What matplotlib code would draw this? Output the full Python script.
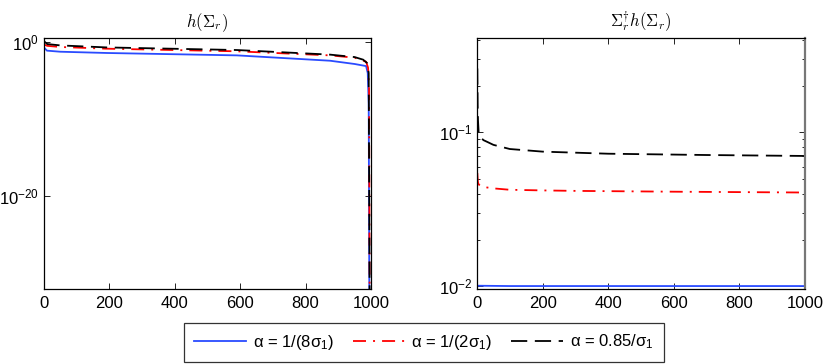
import matplotlib
matplotlib.use("Agg")
import matplotlib.pyplot as plt
from matplotlib.ticker import LogLocator, NullFormatter, FixedLocator

plt.rcParams['font.family'] = ['Liberation Sans', 'DejaVu Sans']
plt.rcParams['mathtext.fontset'] = 'cm'

# ---- data ----
labels = [r"α = 1/(8σ$\mathregular{_1}$)", r"α = 1/(2σ$\mathregular{_1}$)", r"α = 0.85/σ$\mathregular{_1}$"]

# left panel: h(Sigma_r)
blue_l_x = [1, 9, 50, 193, 590, 875, 950, 985, 990, 993, 995]
blue_l_y = [0.19, 0.083, 0.06, 0.041, 0.02, 0.004, 0.0015, 8e-4, 1e-4, 1e-8, 1e-35]
red_l_x = [1, 10, 50, 190, 590, 875, 950, 985, 991, 994, 996]
red_l_y = [0.5, 0.35, 0.25, 0.15, 0.068, 0.02, 0.01, 0.003, 5e-4, 1e-6, 1e-35]
black_l_x = [1, 10, 50, 190, 590, 875, 950, 976, 988, 993, 996]
black_l_y = [1.3, 0.6, 0.4, 0.22, 0.1, 0.025, 0.012, 0.0055, 0.002, 1e-4, 1e-35]

# right panel: Sigma_r^+ h(Sigma_r)
blue_r_x = [1, 100, 500, 1000]
blue_r_y = [0.0101, 0.01005, 0.01005, 0.01005]
red_r_x = [1, 2, 3, 5, 10, 20, 50, 100, 200, 300, 600, 1000]
red_r_y = [0.0545, 0.05, 0.0473, 0.046, 0.045, 0.0442, 0.0433, 0.0424, 0.042, 0.0417, 0.0412, 0.0407]
black_r_x = [1, 2, 3, 5, 10, 20, 30, 50, 100, 200, 400, 700, 1000]
black_r_y = [0.26, 0.15, 0.12, 0.1, 0.093, 0.089, 0.087, 0.083, 0.078, 0.075, 0.0727, 0.0713, 0.0703]

xticks = [0, 200, 400, 600, 800, 1000]

# ---- styles ----
lw = 1.3
blue = '#2a4bff'
red = '#ff0000'
black = '#000000'
red_dash = (0, (7.2, 3.9, 1.1, 3.9))
black_dash = (0, (9.0, 4.2))

fig = plt.figure(figsize=(8.3, 3.64), dpi=100)
ax1 = fig.add_axes([44/830, 1-289/364, (371-44)/830, (289-38)/364])
ax2 = fig.add_axes([477/830, 1-289/364, (805-477)/830, (289-38)/364])

l1, = ax1.semilogy(blue_l_x, blue_l_y, color=blue, lw=lw, linestyle='-')
l2, = ax1.semilogy(red_l_x, red_l_y, color=red, lw=lw, linestyle=red_dash)
l3, = ax1.semilogy(black_l_x, black_l_y, color=black, lw=lw, linestyle=black_dash)

ax2.semilogy(blue_r_x, blue_r_y, color=blue, lw=lw, linestyle='-')
ax2.semilogy(red_r_x, red_r_y, color=red, lw=lw, linestyle=red_dash)
ax2.semilogy(black_r_x, black_r_y, color=black, lw=lw, linestyle=black_dash)

ax1.set_xlim(0, 1000)
ax1.set_ylim(10**-32.2, 10**0.57)
ax1.yaxis.set_major_locator(FixedLocator([1e-20, 1]))
ax1.set_yticklabels([r'$\mathregular{10^{-20}}$', r'$\mathregular{10^{0}}$'])
ax1.yaxis.set_minor_locator(FixedLocator([]))

ax2.set_xlim(0, 1000)
ax2.set_ylim(10**-2.017, 10**-0.387)
ax2.yaxis.set_major_locator(FixedLocator([1e-2, 1e-1]))
ax2.set_yticklabels([r'$\mathregular{10^{-2}}$', r'$\mathregular{10^{-1}}$'])
ax2.yaxis.set_minor_locator(LogLocator(base=10, subs=[2, 3, 4, 5, 6, 7, 8, 9], numticks=20))
ax2.yaxis.set_minor_formatter(NullFormatter())

for ax in (ax1, ax2):
    ax.set_xticks(xticks)
    ax.set_xticklabels([str(t) for t in xticks])
    ax.tick_params(which='both', direction='in', top=True, right=True, labelsize=12)
    ax.tick_params(which='major', length=4, width=0.6)
    ax.tick_params(which='minor', length=2.5, width=0.6)
    ax.tick_params(axis='x', pad=5)
    for s in ax.spines.values():
        s.set_linewidth(0.9)

ax2.spines['right'].set_color('#777777')
ax2.spines['right'].set_linewidth(1.6)

ax1.set_title(r'$h(\Sigma_r)$', fontsize=12, pad=8)
ax2.set_title(r'$\Sigma_r^{\dagger}h(\Sigma_r)$', fontsize=12, pad=8)

leg = fig.legend([l1, l2, l3], labels, loc='center', ncol=3,
                 bbox_to_anchor=(424/830, 1-342/364), fontsize=12,
                 frameon=True, fancybox=False, edgecolor='black',
                 handlelength=3.1, columnspacing=1.15, handletextpad=0.4,
                 borderpad=0.6)
leg.get_frame().set_linewidth(0.9)

fig.savefig('out.png', dpi=100)
